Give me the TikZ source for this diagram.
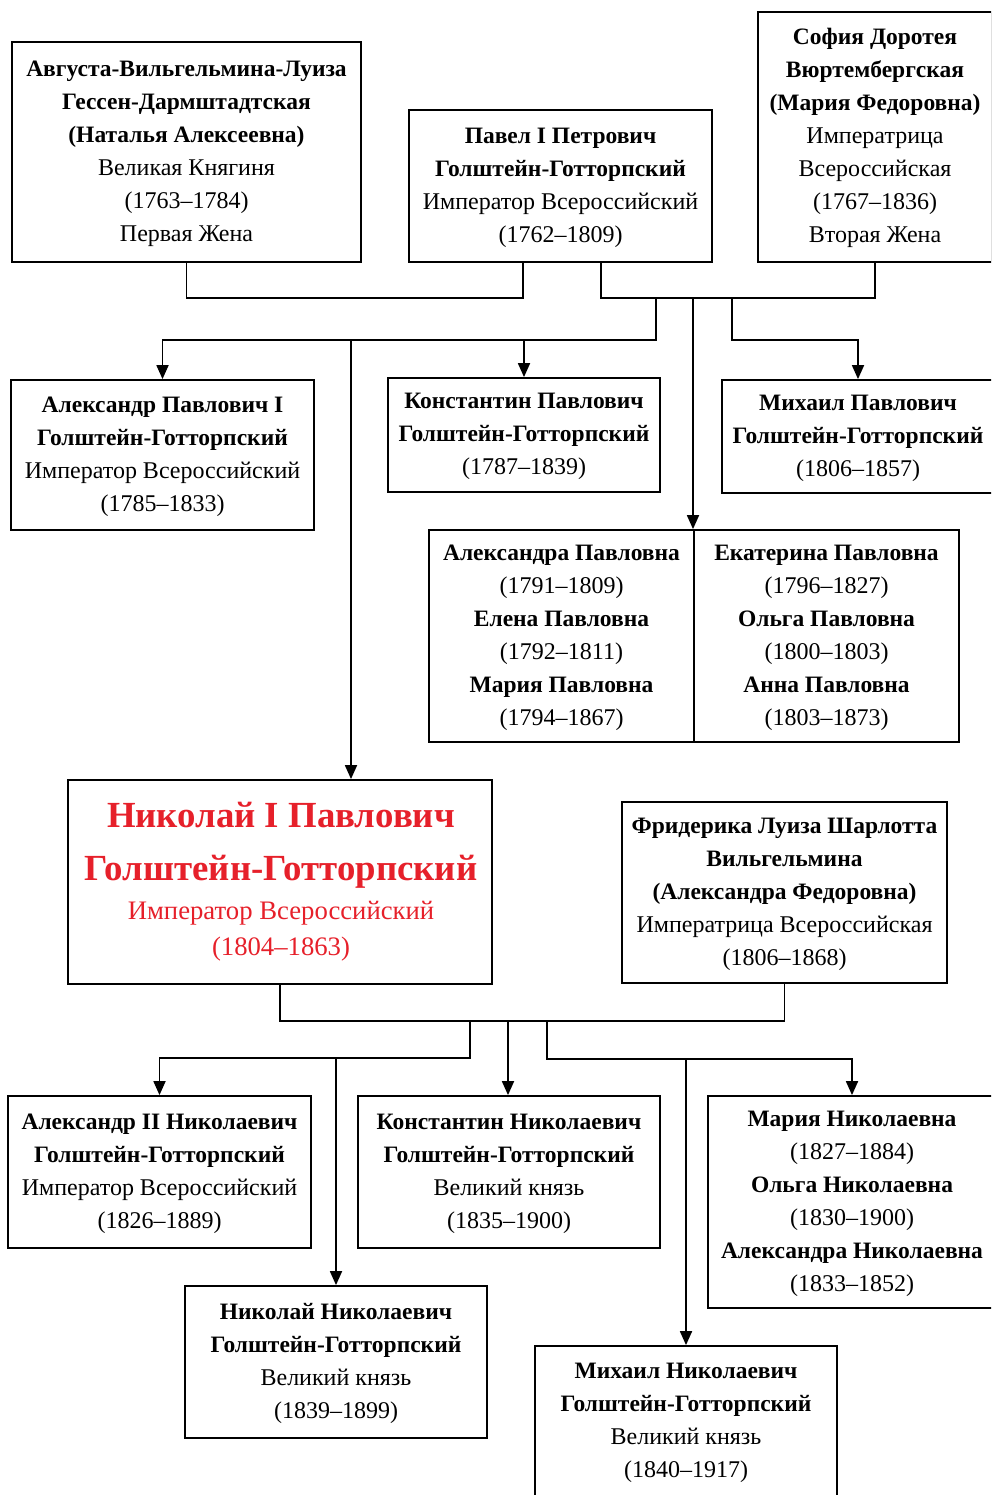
\documentclass[tikz,border=0pt]{standalone}
\usepackage{fontspec}
\setmainfont{Liberation Serif}
\usetikzlibrary{arrows.meta}
\definecolor{nred}{RGB}{230,32,42}
\newcommand\nm[1]{{\fontsize{23.5}{33}\selectfont\bfseries #1}}
\begin{document}
\begin{tikzpicture}[x=1pt,y=-1pt, line width=1.8pt,
  box/.style={draw, line width=1.8pt, inner sep=0pt, align=center, font=\fontsize{24}{33}\selectfont},
  arr/.style={-{Triangle[width=12pt,length=14pt]}},
  bigred/.style={anchor=base, text=nred, font=\fontsize{36.8}{40}\selectfont\bfseries},
  smallred/.style={anchor=base, text=nred, font=\fontsize{26.7}{30}\selectfont}]
\clip (0,0) rectangle (991,1495);
% ---------- top generation
\node[box, minimum width=349, minimum height=220] (aug) at (186.5,152)
 {\strut\nm{Августа-Вильгельмина-Луиза}\\\nm{Гессен-Дармштадтская}\\\nm{(Наталья Алексеевна)}\\Великая Княгиня\\(1763–1784)\\Первая Жена\strut};
\node[box, minimum width=303, minimum height=152] (pav) at (560.5,186)
 {\strut\nm{Павел I Петрович}\\\nm{Голштейн-Готторпский}\\Император Всероссийский\\(1762–1809)\strut};
\node[box, minimum width=234, minimum height=250] (sof) at (875,137)
 {\strut\nm{София Доротея}\\\nm{Вюртембергская}\\\nm{(Мария Федоровна)}\\Императрица\\Всероссийская\\(1767–1836)\\Вторая Жена\strut};
% ---------- children of Pavel
\node[box, minimum width=303, minimum height=150] (alx) at (162.5,455)
 {\strut\nm{Александр Павлович I}\\\nm{Голштейн-Готторпский}\\Император Всероссийский\\(1785–1833)\strut};
\node[box, minimum width=272, minimum height=114] (kon) at (524,435)
 {\strut\nm{Константин Павлович}\\\nm{Голштейн-Готторпский}\\(1787–1839)\strut};
\node[box, minimum width=272, minimum height=113] (mik) at (858,436.5)
 {\strut\nm{Михаил Павлович}\\\nm{Голштейн-Готторпский}\\(1806–1857)\strut};
\node[box, minimum width=265, minimum height=212] (sisL) at (561.5,636)
 {\strut\nm{Александра Павловна}\\(1791–1809)\\\nm{Елена Павловна}\\(1792–1811)\\\nm{Мария Павловна}\\(1794–1867)\strut};
\node[box, minimum width=265, minimum height=212] (sisR) at (826.5,636)
 {\strut\nm{Екатерина Павловна}\\(1796–1827)\\\nm{Ольга Павловна}\\(1800–1803)\\\nm{Анна Павловна}\\(1803–1873)\strut};
\node[box, minimum width=424, minimum height=204] (nik) at (280,882) {};
\node[bigred] (nt1) at (281,827) {Николай I Павлович};
\node[bigred] (nt2) at (281,880) {Голштейн-Готторпский};
\node[smallred] (nt3) at (281,919) {Император Всероссийский};
\node[smallred] (nt4) at (281,955) {(1804–1863)};
\node[box, minimum width=325, minimum height=181] (fri) at (784.5,892.5)
 {\strut\nm{Фридерика Луиза Шарлотта}\\\nm{Вильгельмина}\\\nm{(Александра Федоровна)}\\Императрица Всероссийская\\(1806–1868)\strut};
% ---------- children of Nikolai
\node[box, minimum width=303, minimum height=152] (a2) at (159.5,1172)
 {\strut\nm{Александр II Николаевич}\\\nm{Голштейн-Готторпский}\\Император Всероссийский\\(1826–1889)\strut};
\node[box, minimum width=302, minimum height=152] (kn) at (509,1172)
 {\strut\nm{Константин Николаевич}\\\nm{Голштейн-Готторпский}\\Великий князь\\(1835–1900)\strut};
\node[box, minimum width=288, minimum height=212] (mn) at (852,1202)
 {\strut\nm{Мария Николаевна}\\(1827–1884)\\\nm{Ольга Николаевна}\\(1830–1900)\\\nm{Александра Николаевна}\\(1833–1852)\strut};
\node[box, minimum width=302, minimum height=152] (nn) at (336,1362)
 {\strut\nm{Николай Николаевич}\\\nm{Голштейн-Готторпский}\\Великий князь\\(1839–1899)\strut};
\node[box, minimum width=302, minimum height=150] (mkn) at (686,1421)
 {\strut\nm{Михаил Николаевич}\\\nm{Голштейн-Готторпский}\\Великий князь\\(1840–1917)\strut};
% ---------- junction coordinates
\coordinate (m1) at (523,298);
\coordinate (m2) at (601,298);
\coordinate (d1) at (656,298);
\coordinate (r1) at (656,340);
\coordinate (t1) at (351,340);
\coordinate (c1) at (693,298);
\coordinate (d2) at (732,298);
\coordinate (r2) at (732,340);
\coordinate (m3) at (470,1021);
\coordinate (r3) at (470,1058);
\coordinate (t3) at (336,1058);
\coordinate (k3) at (508,1021);
\coordinate (d4) at (547,1021);
\coordinate (r4) at (547,1059);
\coordinate (t4) at (686,1059);
% ---------- connectors, top family
\draw (aug.south) |- (m1) -- (m1 |- pav.south);
\draw (m2 |- pav.south) -- (m2) -| (sof.south);
\draw[arr] (d1) -- (r1) -| (alx.north);
\draw[arr] (kon.north |- r1) -- (kon.north);
\draw[arr] (t1) -- (t1 |- nik.north);
\draw[arr] (c1) -- (c1 |- sisL.north);
\draw[arr] (d2) -- (r2) -| (mik.north);
% ---------- connectors, lower family
\draw (nik.south) |- (m3) -| (fri.south);
\draw[arr] (m3) -- (r3) -| (a2.north);
\draw[arr] (t3) -- (nn.north);
\draw[arr] (k3) -- (k3 |- kn.north);
\draw[arr] (d4) -- (r4) -| (mn.north);
\draw[arr] (t4) -- (mkn.north);
\end{tikzpicture}
\end{document}
